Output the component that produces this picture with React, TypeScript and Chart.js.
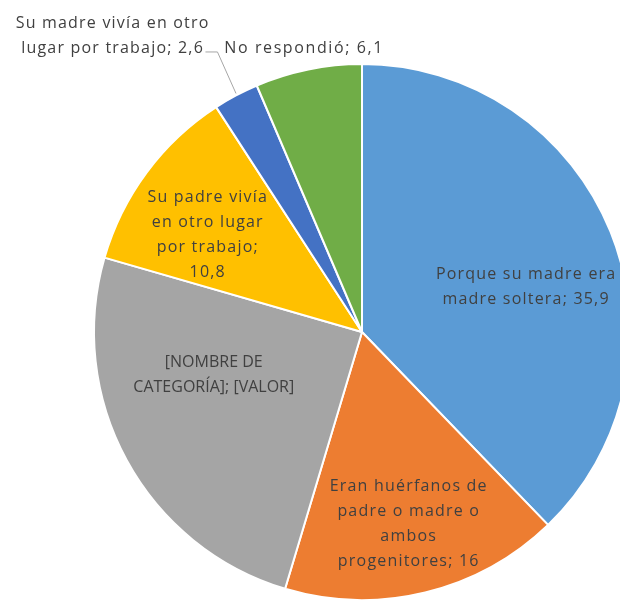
import React, { useEffect, useRef } from "react";
import { Chart, registerables } from "chart.js";

Chart.register(...registerables);

const categories = [
  "Porque su madre era madre soltera",
  "Eran huérfanos de padre o madre o ambos progenitores",
  "[NOMBRE DE CATEGORÍA]",
  "Su padre vivía en otro lugar por trabajo",
  "Su madre vivía en otro lugar por trabajo",
  "No respondió",
];
const values = [35.9, 16, 23.6, 10.8, 2.6, 6.1];
const labelLines = [
  ["Porque su madre era", "madre soltera; 35,9"],
  ["Eran huérfanos de", "padre o madre o", "ambos", "progenitores; 16"],
  ["[NOMBRE DE", "CATEGORÍA]; [VALOR]"],
  ["Su padre vivía", "en otro lugar", "por trabajo;", "10,8"],
  ["Su madre vivía en otro", "lugar por trabajo; 2,6"],
  ["No respondió; 6,1"],
];
const colors = ["#5B9BD5", "#ED7D31", "#A5A5A5", "#FFC000", "#4472C4", "#70AD47"];

// label placement: radial factor of radius, then pixel offsets, letter spacing
const labelPlace = [
  { f: 0.65, dx: 2, dy: 20, ls: 1.2 },
  { f: 0.73, dx: 0, dy: 2, ls: 1.2 },
  { f: 0.63, dx: 0, dy: -38, ls: 0 },
  { f: 0.71, dx: -2, dy: 16, ls: 1.2 },
  { f: 1.0, dx: -124, dy: -60, ls: 1.2, leader: true },
  { f: 1.0, dx: -5, dy: -21, ls: 1.6 },
];

const labelPlugin = {
  id: "sliceLabels",
  afterDatasetsDraw(chart: any) {
    const ctx = chart.ctx;
    const meta = chart.getDatasetMeta(0);
    ctx.save();
    ctx.font = '16px "Open Sans", sans-serif';
    ctx.fillStyle = "#404040";
    ctx.textAlign = "center";
    ctx.textBaseline = "middle";
    const lh = 25;
    meta.data.forEach((arc: any, i: number) => {
      const p: any = labelPlace[i];
      ctx.letterSpacing = p.ls + "px";
      const mid = (arc.startAngle + arc.endAngle) / 2;
      const r = arc.outerRadius * p.f;
      const ex = arc.x + Math.cos(mid) * r;
      const ey = arc.y + Math.sin(mid) * r;
      const cx = ex + p.dx;
      const cy = ey + p.dy;
      const lines = labelLines[i];
      const n = lines.length;
      lines.forEach((t, k) => {
        ctx.fillText(t, cx + p.ls / 2, cy + (k - (n - 1) / 2) * lh);
      });
      if (p.leader) {
        const w = ctx.measureText(lines[n - 1]).width;
        const endX = cx + w / 2 + 2;
        const lineY = cy + lh / 2 + 4;
        ctx.strokeStyle = "#A6A6A6";
        ctx.lineWidth = 1;
        ctx.beginPath();
        ctx.moveTo(endX, lineY);
        ctx.lineTo(endX + 12, lineY);
        ctx.lineTo(ex, ey - 2);
        ctx.stroke();
      }
    });
    ctx.restore();
  },
};

export default function App() {
  const ref = useRef<HTMLCanvasElement>(null);
  useEffect(() => {
    document.body.style.margin = "0";
    const chart = new Chart(ref.current as HTMLCanvasElement, {
      type: "pie",
      data: {
        labels: categories,
        datasets: [
          {
            data: values,
            backgroundColor: colors,
            borderColor: "#FFFFFF",
            borderWidth: 2,
          },
        ],
      },
      options: {
        animation: false,
        responsive: false,
        radius: 268,
        layout: { padding: { left: 104, right: 0, top: 64, bottom: 0 } },
        plugins: { legend: { display: false }, tooltip: { enabled: false } },
      } as any,
      plugins: [labelPlugin],
    });
    return () => chart.destroy();
  }, []);
  return (
    <div style={{ position: "relative", width: 620, height: 600, background: "#fff" }}>
      <canvas ref={ref} width={620} height={600} style={{ display: "block" }} />
    </div>
  );
}
